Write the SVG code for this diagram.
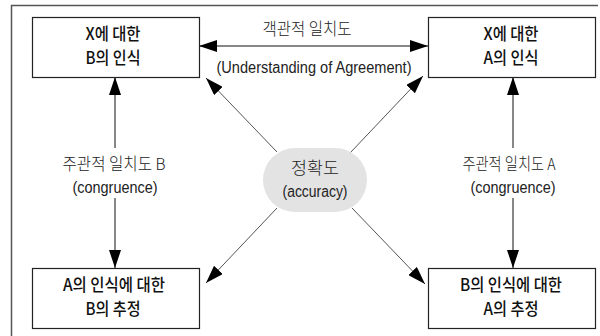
<svg xmlns="http://www.w3.org/2000/svg" width="600" height="336" viewBox="0 0 600 336">
<style>
.box{fill:#fff;stroke:#222;stroke-width:1.2}
.t{font-family:"Noto Sans CJK KR","Liberation Sans",sans-serif;font-size:17px;font-weight:500;fill:#111;text-anchor:middle}
.e{font-family:"Liberation Sans","Noto Sans CJK KR",sans-serif;font-size:16px;fill:#222;text-anchor:middle}
.k{font-family:"Noto Sans CJK KR","Liberation Sans",sans-serif;font-size:16.5px;fill:#222;text-anchor:middle;font-weight:300}
.line{stroke:#111;stroke-width:1;fill:none}
.diag{stroke:#555;stroke-width:1;fill:none}
</style>
<defs>
<marker id="ah" viewBox="0 0 18 12" refX="18" refY="6" markerWidth="18" markerHeight="12" markerUnits="userSpaceOnUse" orient="auto-start-reverse">
<path d="M0,0 L18,6 L0,12 Z" fill="#000"/>
</marker>
</defs>
<rect width="600" height="336" fill="#fff"/>
<path d="M11.5,336 V5.5 H598" fill="none" stroke="#555" stroke-width="1.5"/>
<g id="connectors">
<line class="line" x1="199" y1="46" x2="428" y2="46" marker-start="url(#ah)" marker-end="url(#ah)"/>
<line class="line" x1="115" y1="148" x2="115" y2="77" marker-end="url(#ah)"/>
<line class="line" x1="115" y1="198" x2="115" y2="268" marker-end="url(#ah)"/>
<line class="line" x1="513" y1="148" x2="513" y2="77" marker-end="url(#ah)"/>
<line class="line" x1="513" y1="198" x2="513" y2="268" marker-end="url(#ah)"/>
<line class="diag" x1="277" y1="152" x2="206" y2="78" marker-end="url(#ah)"/>
<line class="diag" x1="350" y1="153" x2="423" y2="76" marker-end="url(#ah)"/>
<line class="diag" x1="277" y1="208" x2="206" y2="283" marker-end="url(#ah)"/>
<line class="diag" x1="352" y1="208" x2="425" y2="284" marker-end="url(#ah)"/>
<text class="k" x="307" y="35" textLength="89" lengthAdjust="spacingAndGlyphs">객관적 일치도</text>
<text class="e" x="314" y="73" textLength="195" lengthAdjust="spacingAndGlyphs">(Understanding of Agreement)</text>
<text class="k" x="114" y="170" textLength="103" lengthAdjust="spacingAndGlyphs">주관적 일치도 B</text>
<text class="e" x="115" y="193" textLength="85" lengthAdjust="spacingAndGlyphs">(congruence)</text>
<text class="k" x="509" y="170" textLength="93" lengthAdjust="spacingAndGlyphs">주관적 일치도 A</text>
<text class="e" x="513" y="193" textLength="85" lengthAdjust="spacingAndGlyphs">(congruence)</text>
</g>
<g id="node-xb">
<rect class="box" x="32.5" y="17.5" width="167" height="60"/>
<text class="t" x="113" y="40" textLength="55" lengthAdjust="spacingAndGlyphs">X에 대한</text>
<text class="t" x="113" y="64" textLength="55" lengthAdjust="spacingAndGlyphs">B의 인식</text>
</g>
<g id="node-xa">
<rect class="box" x="428.5" y="17.5" width="167" height="60"/>
<text class="t" x="511" y="40" textLength="55" lengthAdjust="spacingAndGlyphs">X에 대한</text>
<text class="t" x="511" y="64" textLength="55" lengthAdjust="spacingAndGlyphs">A의 인식</text>
</g>
<g id="node-ba">
<rect class="box" x="32.5" y="268.5" width="167" height="60"/>
<text class="t" x="114" y="291" textLength="102" lengthAdjust="spacingAndGlyphs">A의 인식에 대한</text>
<text class="t" x="113" y="315" textLength="55" lengthAdjust="spacingAndGlyphs">B의 추정</text>
</g>
<g id="node-ab">
<rect class="box" x="428.5" y="268.5" width="167" height="60"/>
<text class="t" x="511" y="291" textLength="102" lengthAdjust="spacingAndGlyphs">B의 인식에 대한</text>
<text class="t" x="511" y="315" textLength="55" lengthAdjust="spacingAndGlyphs">A의 추정</text>
</g>
<g id="node-accuracy">
<rect x="263" y="148" width="104" height="64" rx="32" ry="32" fill="#e3e3e3"/>
<text class="k" x="315" y="174" textLength="48" lengthAdjust="spacingAndGlyphs">정확도</text>
<text class="e" x="315" y="197" textLength="65" lengthAdjust="spacingAndGlyphs">(accuracy)</text>
</g>
</svg>
